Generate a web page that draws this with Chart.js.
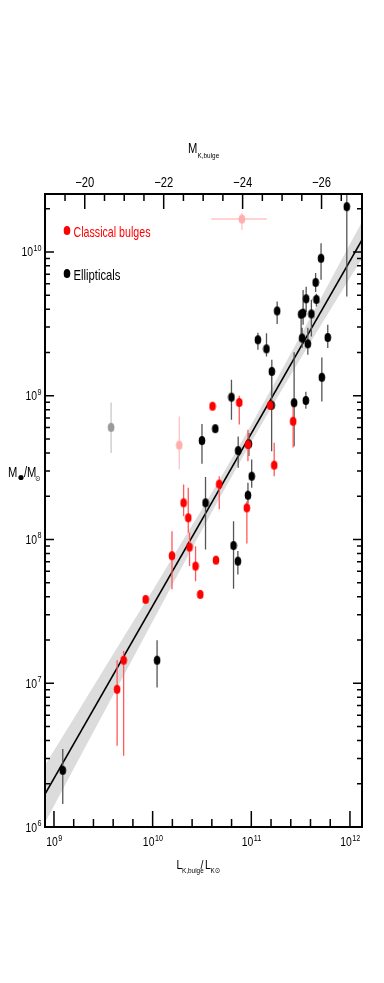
<!DOCTYPE html>
<html>
<head>
<meta charset="utf-8">
<script src="https://cdn.jsdelivr.net/npm/chart.js@4.4.1/dist/chart.umd.min.js"></script>
<style>
  html, body { margin: 0; padding: 0; background: #fff; }
  #wrap { width: 384px; height: 983px; position: relative; }
</style>
</head>
<body>
<div id="wrap"><canvas id="chart"></canvas></div>
<script>
// axis ranges (log10 units)
const LOG_L_RANGE = [8.909, 12.122];
const LOG_M_RANGE = [6.0, 10.403];
const MSUN_K = 3.28;

const X_TICK_EXP = [9, 10, 11, 12];
const Y_TICK_EXP = [6, 7, 8, 9, 10];
const TOP_TICK_LABELS = [-20, -22, -24, -26];

// Ellipticals
const ELL_LOGL = [11.968, 11.707, 11.652, 11.556, 11.660, 11.262, 11.505, 11.525, 11.609, 11.515,
  11.573, 11.775, 11.067, 11.154, 11.208, 11.715, 10.799, 11.434, 11.553, 11.206,
  10.635, 10.500, 10.867, 10.976, 11.004, 10.966, 10.536, 10.820, 10.864, 10.045, 9.089];
const ELL_LOGM = [10.315, 9.956, 9.788, 9.674, 9.670, 9.590, 9.567, 9.574, 9.569, 9.401,
  9.361, 9.405, 9.389, 9.326, 9.169, 9.128, 8.990, 8.951, 8.967, 8.934,
  8.771, 8.688, 8.618, 8.665, 8.440, 8.308, 8.255, 7.958, 7.849, 7.160, 6.394];
const ELL_HI = [10.40, 10.060, 9.854, 9.757, 9.71, 9.655, 9.60, 9.736, 9.667, 9.472,
  9.472, 9.493, 9.438, 9.435, 9.25, 9.266, 9.111, 9.303, 9.028, 9.146,
  null, 8.804, 8.717, 8.74, 8.556, 8.394, 8.435, 8.127, 7.919, 7.299, 6.542];
const ELL_LO = [9.69, 9.806, 9.722, 9.583, 9.62, 9.498, 9.412, 9.493, 9.412, 9.333,
  9.285, 9.331, 9.319, 9.273, 8.995, 8.96, 8.833, 8.648, 8.910, 8.613,
  null, 8.526, 8.498, 8.58, 8.359, 8.25, 7.931, 7.658, 7.757, 6.970, 6.160];

// Classical bulges
const BUL_LOGL = [10.607, 10.878, 11.424, 11.232, 10.966, 10.675, 10.314, 10.361, 10.955, 10.374,
  10.196, 10.435, 10.642, 10.483, 9.929, 9.706, 9.640, 11.191];
const BUL_LOGM = [8.927, 8.953, 8.822, 8.517, 8.660, 8.385, 8.255, 8.151, 8.220, 7.947,
  7.887, 7.815, 7.856, 7.618, 7.583, 7.160, 6.958, 8.933];
const BUL_HI = [null, 9.00, 8.972, 8.672, 8.764, 8.44, 8.382, 8.359, 8.266, 8.049,
  8.058, 7.953, null, null, null, 7.224, 7.160, null];
const BUL_LO = [null, 8.799, 8.639, 8.44, 8.544, 8.21, 8.162, 8.047, 7.972, 7.815,
  7.653, 7.710, null, null, null, 6.495, 6.565, null];

// excluded objects (pale markers)
const PINK_LOGL = [10.905, 10.270];
const PINK_LOGM = [10.229, 8.656];
const PINK_HI = [10.269, 8.856];
const PINK_LO = [10.153, 8.486];
const PINK_L_LO = [10.594, null];
const PINK_L_HI = [11.158, null];

const GREY_LOGL = [9.579];
const GREY_LOGM = [8.780];
const GREY_HI = [8.953];
const GREY_LO = [8.602];

// fit and its band
const FIT_LOGL = [8.909, 12.122];
const FIT_LOGM = [6.229, 10.083];
const BAND_LOGL = [8.909, 9.25, 9.5, 9.75, 10.0, 10.25, 10.5, 10.75, 11.0, 11.25, 11.5, 11.75, 12.0, 12.122];
const BAND_UP = [6.43, 6.81, 7.09, 7.37, 7.645, 7.93, 8.21, 8.50, 8.798, 9.105, 9.418, 9.735, 10.055, 10.209];
const BAND_LOW = [6.03, 6.47, 6.79, 7.11, 7.43, 7.75, 8.065, 8.376, 8.678, 8.971, 9.258, 9.541, 9.821, 9.955];

const SX = 0.8;
const FONT = '"Liberation Sans", Arial, "DejaVu Sans", sans-serif';

function makeDot(color) {
  const c = document.createElement("canvas");
  c.width = 8; c.height = 11;
  const g = c.getContext("2d");
  g.fillStyle = color;
  g.beginPath();
  g.ellipse(4, 5.5, 3.3, 4.6, 0, 0, Math.PI * 2);
  g.fill();
  return c;
}

const DOT_BLACK = makeDot("#000000");
const DOT_RED = makeDot("#ff0000");
const DOT_PINK = makeDot("#ffadad");
const DOT_GREY = makeDot("#9a9a9a");

function points(xs, ys) {
  return xs.map((v, i) => ({ x: v, y: ys[i] }));
}

function vBars(xs, his, los) {
  const out = [];
  xs.forEach((v, i) => {
    if (his[i] == null) return;
    out.push({ x: v, y: los[i] }, { x: v, y: his[i] }, { x: v, y: null });
  });
  return out;
}

function hBars(ys, lo, hi) {
  const out = [];
  ys.forEach((v, i) => {
    if (lo[i] == null) return;
    out.push({ x: lo[i], y: v }, { x: hi[i], y: v }, { x: hi[i], y: null });
  });
  return out;
}

function barSet(data, color, width) {
  return {
    type: "line", data, showLine: true, spanGaps: false,
    borderColor: color, borderWidth: width, pointRadius: 0, order: 2
  };
}

function pointSet(data, dot) {
  return { type: "scatter", data, pointStyle: dot, order: 0 };
}

function sText(ctx, t, x, y, size, maxW) {
  ctx.save();
  ctx.font = size + "px " + FONT;
  ctx.translate(x, y);
  ctx.scale(SX, 1);
  if (maxW) ctx.fillText(t, 0, 0, maxW / SX);
  else ctx.fillText(t, 0, 0);
  ctx.restore();
}

function sWidth(ctx, t, size) {
  ctx.font = size + "px " + FONT;
  return ctx.measureText(t).width * SX;
}

function drawPow(ctx, exp, x, y, align) {
  const wb = sWidth(ctx, "10", 13);
  const we = sWidth(ctx, String(exp), 9);
  const left = align === "center" ? x - (wb + we) / 2 : x - (wb + we);
  sText(ctx, "10", left, y, 13);
  sText(ctx, String(exp), left + wb + 0.5, y - 5.5, 9);
}

const axesPlugin = {
  id: "axesPlugin",
  afterDraw(chart) {
    const ctx = chart.ctx;
    const a = chart.chartArea;
    const sx = chart.scales.x, sy = chart.scales.y, st = chart.scales.x2;
    ctx.save();
    ctx.strokeStyle = "#000";
    ctx.fillStyle = "#000";
    ctx.textBaseline = "alphabetic";
    ctx.textAlign = "left";

    // ticks
    ctx.lineWidth = 1.5;
    ctx.beginPath();
    for (let e = 6; e <= 10; e++) {
      for (let k = 1; k <= 9; k++) {
        const v = e + Math.log10(k);
        if (v < LOG_M_RANGE[0] || v > LOG_M_RANGE[1]) continue;
        const py = sy.getPixelForValue(v);
        const len = k === 1 ? 9 : 5;
        ctx.moveTo(a.left, py); ctx.lineTo(a.left + len, py);
        ctx.moveTo(a.right, py); ctx.lineTo(a.right - len, py);
      }
    }
    for (let i = 45; i <= 120; i++) {
      const v = i / 5;
      if (v < LOG_L_RANGE[0] || v > LOG_L_RANGE[1]) continue;
      const px = sx.getPixelForValue(v);
      const len = i % 5 === 0 ? 16 : 8;
      ctx.moveTo(px, a.bottom); ctx.lineTo(px, a.bottom - len);
    }
    for (let m = -19; m >= -27; m -= 0.5) {
      const px = st.getPixelForValue(m);
      if (px < a.left + 1 || px > a.right - 1) continue;
      const len = TOP_TICK_LABELS.includes(m) ? 15 : 7;
      ctx.moveTo(px, a.top); ctx.lineTo(px, a.top + len);
    }
    ctx.stroke();

    // frame
    ctx.lineWidth = 2;
    ctx.strokeRect(a.left, a.top, a.right - a.left, a.bottom - a.top);

    // tick labels
    X_TICK_EXP.forEach(e => drawPow(ctx, e, sx.getPixelForValue(e), a.bottom + 19, "center"));
    Y_TICK_EXP.forEach(e => drawPow(ctx, e, a.left - 4, sy.getPixelForValue(e) + 4.5, "right"));
    TOP_TICK_LABELS.forEach(m => {
      const t = "\u2212" + Math.abs(m);
      const w = sWidth(ctx, t, 14);
      sText(ctx, t, st.getPixelForValue(m) - w / 2, a.top - 7.5, 14);
    });

    // axis titles
    sText(ctx, "M", 188, 153, 14);
    sText(ctx, "K,bulge", 197.5, 158, 8);
    sText(ctx, "L", 176.5, 869, 13);
    sText(ctx, "K,bulge", 182, 873, 8);
    sText(ctx, "/", 200.5, 869, 13);
    sText(ctx, "L", 205, 869, 13);
    sText(ctx, "K\u2299", 210.5, 873, 8);
    sText(ctx, "M", 8, 477, 14);
    ctx.beginPath();
    ctx.arc(21, 477.5, 2.6, 0, Math.PI * 2);
    ctx.fill();
    sText(ctx, "/M", 24, 477, 14);
    sText(ctx, "\u2299", 35, 481, 8);

    // legend
    ctx.drawImage(DOT_RED, 63, 225);
    ctx.fillStyle = "#ff0000";
    sText(ctx, "Classical bulges", 73.5, 236.5, 15, 77);
    ctx.drawImage(DOT_BLACK, 63, 268);
    ctx.fillStyle = "#000";
    sText(ctx, "Ellipticals", 73.5, 279.5, 15, 47);
    ctx.restore();
  }
};

const datasets = [
  { type: "line", data: points(BAND_LOGL, BAND_LOW), borderWidth: 0, pointRadius: 0,
    showLine: true, fill: false, order: 4 },
  { type: "line", data: points(BAND_LOGL, BAND_UP), borderWidth: 0, pointRadius: 0,
    showLine: true, fill: "-1", backgroundColor: "#dcdcdc", order: 4 },
  { type: "line", data: points(FIT_LOGL, FIT_LOGM), borderColor: "#000", borderWidth: 1.6,
    pointRadius: 0, showLine: true, order: 3 },
  barSet(vBars(GREY_LOGL, GREY_HI, GREY_LO), "#c8c8c8", 1.3),
  barSet(vBars(PINK_LOGL, PINK_HI, PINK_LO), "#ffc4c4", 1.3),
  barSet(hBars(PINK_LOGM, PINK_L_LO, PINK_L_HI), "#ffc4c4", 1.3),
  barSet(vBars(BUL_LOGL, BUL_HI, BUL_LO), "#ff5a5a", 1.3),
  barSet(vBars(ELL_LOGL, ELL_HI, ELL_LO), "#555555", 1.3),
  pointSet(points(GREY_LOGL, GREY_LOGM), DOT_GREY),
  pointSet(points(PINK_LOGL, PINK_LOGM), DOT_PINK),
  pointSet(points(BUL_LOGL, BUL_LOGM), DOT_RED),
  pointSet(points(ELL_LOGL, ELL_LOGM), DOT_BLACK)
];

const hidden = { ticks: { display: false }, grid: { display: false }, border: { display: false } };

const chart = new Chart(document.getElementById("chart"), {
  type: "scatter",
  data: { datasets },
  options: {
    responsive: true,
    maintainAspectRatio: false,
    animation: false,
    events: [],
    layout: { padding: 0, autoPadding: false },
    plugins: { legend: { display: false }, tooltip: { enabled: false } },
    scales: {
      x: { type: "linear", position: "bottom", min: LOG_L_RANGE[0], max: LOG_L_RANGE[1], ...hidden,
        afterFit: s => { s.height = 156; } },
      x2: { type: "linear", position: "top", reverse: true,
        min: MSUN_K - 2.5 * LOG_L_RANGE[1], max: MSUN_K - 2.5 * LOG_L_RANGE[0], ...hidden,
        afterFit: s => { s.height = 194; } },
      y: { type: "linear", position: "left", min: LOG_M_RANGE[0], max: LOG_M_RANGE[1], ...hidden,
        afterFit: s => { s.width = 45; } },
      y2: { type: "linear", position: "right", min: LOG_M_RANGE[0], max: LOG_M_RANGE[1], ...hidden,
        afterFit: s => { s.width = 22; } }
    }
  },
  plugins: [axesPlugin]
});
</script>
</body>
</html>
